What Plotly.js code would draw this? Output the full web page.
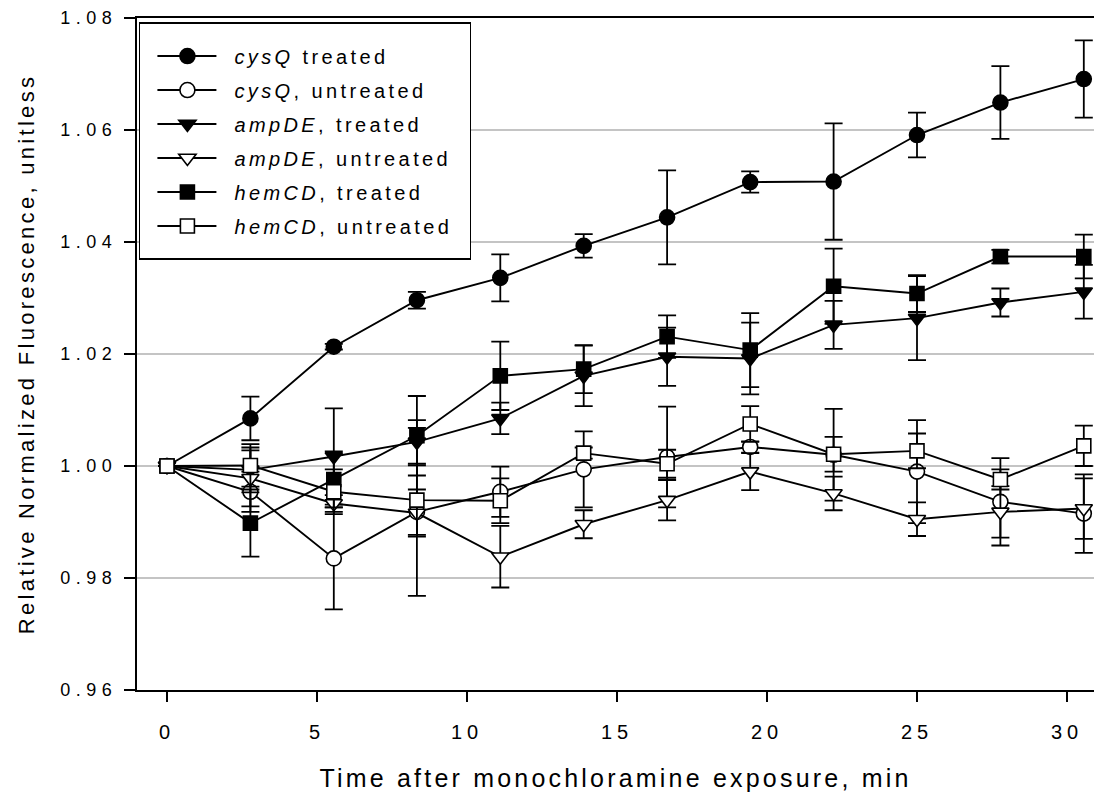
<!DOCTYPE html>
<html>
<head>
<meta charset="utf-8">
<script src="https://cdn.plot.ly/plotly-3.0.1.min.js"></script>
<style>
  html, body { margin: 0; padding: 0; background: #fff; }
  #chart { width: 1094px; height: 804px; }
  .xtitle { letter-spacing: 3.2px; }
  .ytitle { letter-spacing: 3.3px; }
  .xtick text { letter-spacing: 5px; }
  .ytick text { letter-spacing: 5.5px; }
  .legendtext { letter-spacing: 3.4px; }
</style>
</head>
<body>
<div id="chart"></div>
<script>
// Time points (min)
const time = [0, 2.78, 5.56, 8.33, 11.11, 13.89, 16.67, 19.44, 22.22, 25.0, 27.78, 30.56];

// Series values (relative normalized fluorescence)
const cysQTreated      = [1.000, 1.0085, 1.0213, 1.0296, 1.0336, 1.0393, 1.0444, 1.0507, 1.0508, 1.0591, 1.0649, 1.0691];
const cysQTreatedErr   = [0, 0.0039, 0.0005, 0.0015, 0.0042, 0.0021, 0.0084, 0.0019, 0.0104, 0.0040, 0.0065, 0.0069];

const cysQUntreated    = [1.000, 0.9954, 0.9835, 0.9918, 0.9954, 0.9994, 1.0016, 1.0034, 1.0020, 0.9990, 0.9936, 0.9915];
const cysQUntreatedErr = [0, 0.0036, 0.0091, 0.0150, 0.0045, 0.0068, 0.0090, 0.0010, 0.0082, 0.0092, 0.0078, 0.0070];

const ampDETreated     = [1.000, 0.9993, 1.0017, 1.0043, 1.0085, 1.0161, 1.0195, 1.0192, 1.0252, 1.0264, 1.0292, 1.0311];
const ampDETreatedErr  = [0, 0.0040, 0.0086, 0.0039, 0.0028, 0.0054, 0.0052, 0.0064, 0.0043, 0.0075, 0.0025, 0.0048];

const ampDEUntreated   = [1.000, 0.9978, 0.9933, 0.9916, 0.9838, 0.9896, 0.9939, 0.9990, 0.9951, 0.9905, 0.9918, 0.9924];
const ampDEUntreatedErr= [0, 0.0050, 0.0015, 0.0042, 0.0055, 0.0025, 0.0036, 0.0033, 0.0030, 0.0030, 0.0046, 0.0054];

const hemCDTreated     = [1.000, 0.9898, 0.9976, 1.0054, 1.0161, 1.0173, 1.0231, 1.0207, 1.0321, 1.0308, 1.0374, 1.0374];
const hemCDTreatedErr  = [0, 0.0060, 0.0050, 0.0071, 0.0061, 0.0043, 0.0038, 0.0066, 0.0067, 0.0033, 0.0012, 0.0039];

const hemCDUntreated   = [1.000, 1.0001, 0.9954, 0.9939, 0.9938, 1.0023, 1.0004, 1.0075, 1.0021, 1.0027, 0.9976, 1.0036];
const hemCDUntreatedErr= [0, 0.0038, 0.0040, 0.0062, 0.0040, 0.0010, 0.0025, 0.0032, 0.0031, 0.0031, 0.0018, 0.0036];

// Legend labels
const seriesNames = [
  '<i>cysQ</i> treated',
  '<i>cysQ</i>, untreated',
  '<i>ampDE</i>, treated',
  '<i>ampDE</i>, untreated',
  '<i>hemCD</i>, treated',
  '<i>hemCD</i>, untreated'
];
const xTickVals = [0, 5, 10, 15, 20, 25, 30];

const FONT = 'Liberation Sans, Arial, Helvetica, sans-serif';

function makeTrace(name, y, err, symbol, filled, size) {
  return {
    x: time, y: y, name: name, type: 'scatter', mode: 'lines+markers',
    legendgroup: name,
    line: {color: '#000', width: 1.9},
    marker: {symbol: symbol, size: size, color: filled ? '#000' : '#fff',
             line: {color: '#000', width: 1.6}},
    error_y: {type: 'data', array: err, visible: true, color: '#000', thickness: 1.8, width: 9}
  };
}

const data = [
  makeTrace(seriesNames[0], cysQTreated, cysQTreatedErr, 'circle', true, 15),
  makeTrace(seriesNames[1], cysQUntreated, cysQUntreatedErr, 'circle', false, 15),
  makeTrace(seriesNames[2], ampDETreated, ampDETreatedErr, 'triangle-down', true, 15),
  makeTrace(seriesNames[3], ampDEUntreated, ampDEUntreatedErr, 'triangle-down', false, 15),
  makeTrace(seriesNames[4], hemCDTreated, hemCDTreatedErr, 'square', true, 14),
  makeTrace(seriesNames[5], hemCDUntreated, hemCDUntreatedErr, 'square', false, 14)
];

const layout = {
  width: 1094, height: 804,
  margin: {l: 137, r: 0, t: 18, b: 114},
  paper_bgcolor: '#fff', plot_bgcolor: '#fff',
  font: {family: FONT, color: '#000', size: 18},
  showlegend: true,
  legend: {
    x: 0.002, y: 0.994, xanchor: 'left', yanchor: 'top',
    bgcolor: '#fff', bordercolor: '#000', borderwidth: 1.5,
    font: {family: FONT, size: 20, color: '#000'},
    traceorder: 'grouped',
    tracegroupgap: 5,
    itemwidth: 84,
    title: {text: '\u00a0', font: {family: FONT, size: 10, color: '#000'}}
  },
  xaxis: {
    range: [-1.0, 30.9],
    tickvals: xTickVals,
    ticktext: xTickVals.map(String),
    ticks: 'outside', ticklen: 10, tickwidth: 1.6, tickcolor: '#000',
    ticklabelstandoff: 13,
    showline: true, linecolor: '#000', linewidth: 2, mirror: true,
    showgrid: false, zeroline: false,
    tickfont: {family: FONT, size: 20, color: '#000'},
    title: {text: 'Time after monochloramine exposure, min', font: {family: FONT, size: 25, color: '#000'}, standoff: 27}
  },
  yaxis: {
    range: [0.96, 1.08],
    dtick: 0.02, tick0: 0.96, tickformat: '.2f',
    ticks: 'outside', ticklen: 11, tickwidth: 1.6, tickcolor: '#000',
    ticklabelstandoff: 3,
    showline: true, linecolor: '#000', linewidth: 2, mirror: false,
    showgrid: true, gridcolor: '#c4c4c4', gridwidth: 1.6,
    zeroline: false,
    tickfont: {family: FONT, size: 18, color: '#000'},
    title: {text: 'Relative Normalized Fluorescence, unitless', font: {family: FONT, size: 22, color: '#000'}, standoff: 20}
  }
};

Plotly.newPlot('chart', data, layout, {displayModeBar: false, staticPlot: true}).then(function () {
  // Legend samples: longer line with the symbol centred on it, as in the original
  document.querySelectorAll('.legend .legendlines path').forEach(function (p) {
    p.setAttribute('d', 'M17,0h59');
  });
  document.querySelectorAll('.legend .legendpoints path.scatterpts').forEach(function (p) {
    p.setAttribute('transform', 'translate(47,0)');
  });
  // Legend frame size as in the original
  document.querySelectorAll('.legend rect.bg').forEach(function (r) {
    r.setAttribute('width', '331');
    r.setAttribute('height', '236');
  });
});
</script>
</body>
</html>
